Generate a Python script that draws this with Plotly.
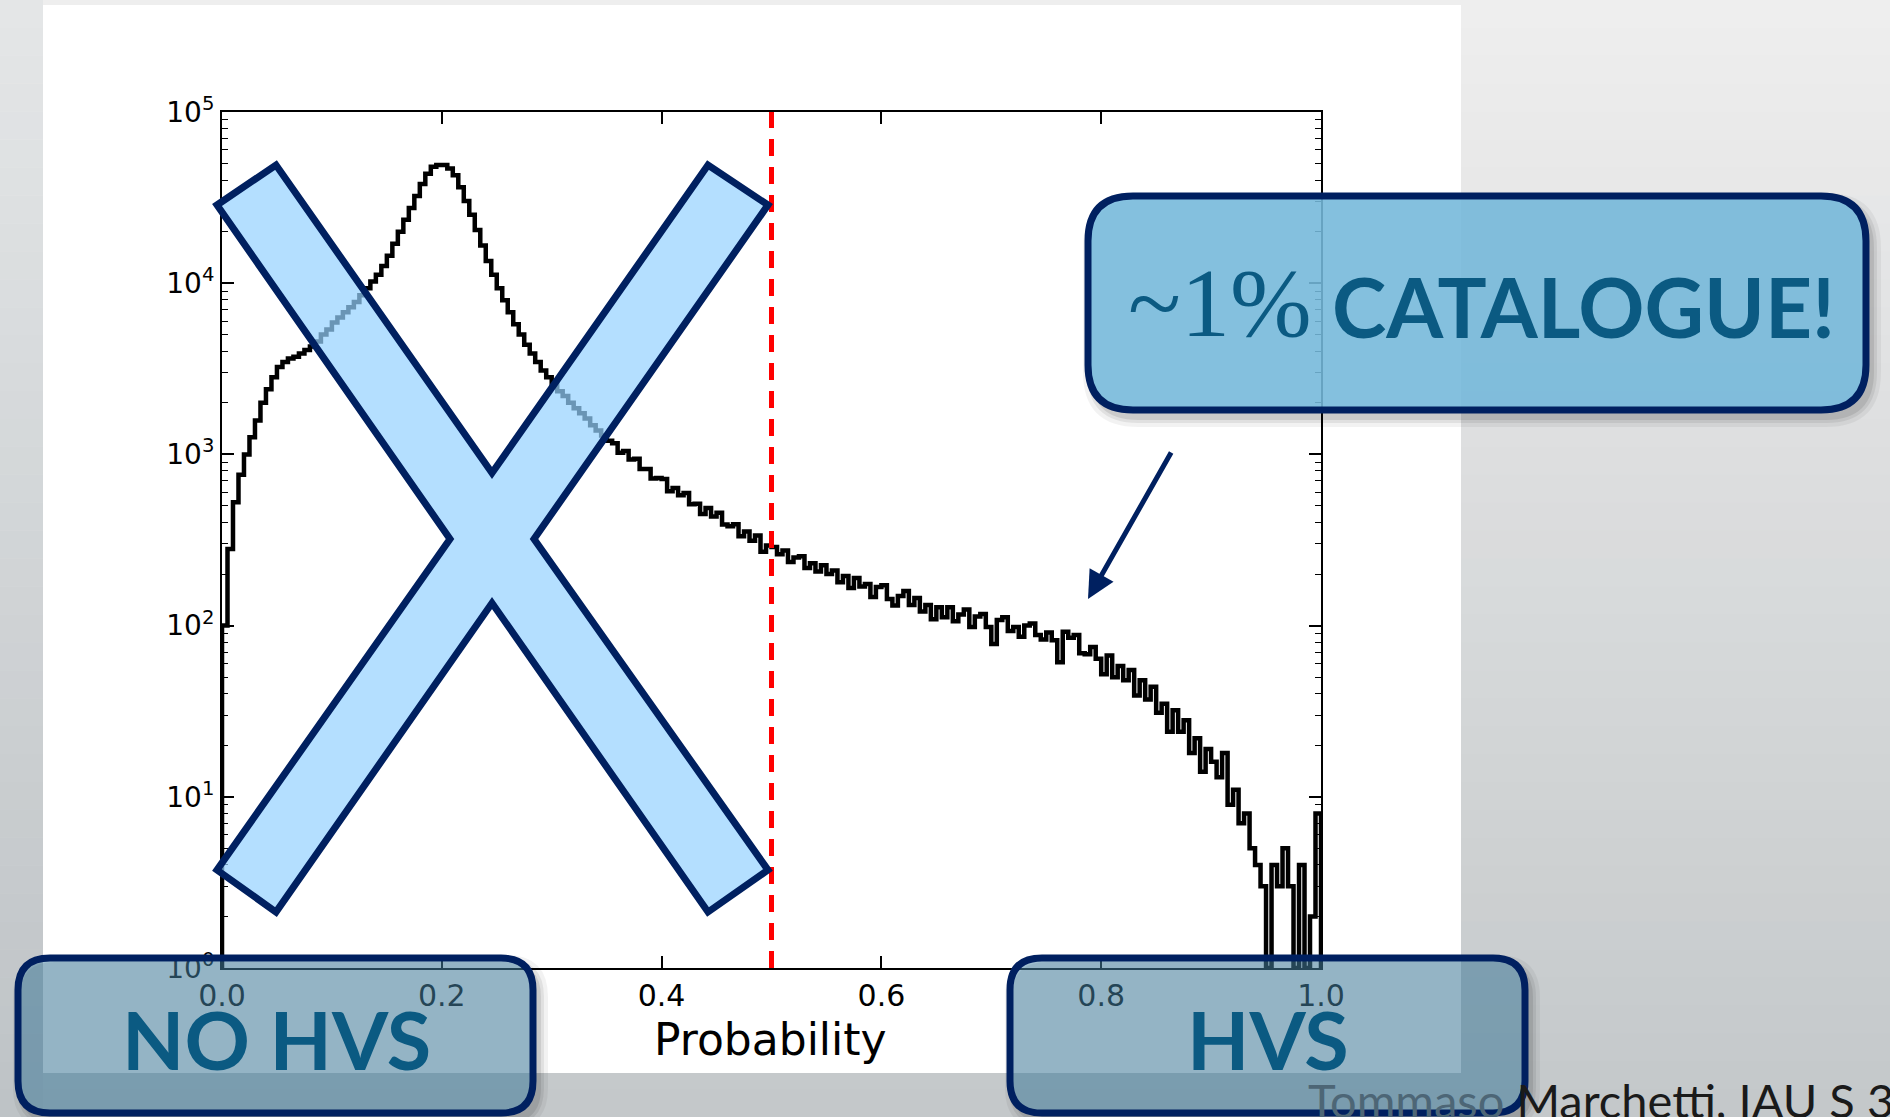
import plotly.graph_objects as go

W, H = 1890, 1117

# Histogram of the HVS probability (bin width 0.005 on [0, 1])
bin_width = 0.005
counts = [
    100, 280, 525, 760, 1000, 1260, 1580, 2000, 2400, 2820,
    3240, 3470, 3630, 3720, 3890, 4070, 4270, 4570, 5010, 5370,
    5890, 6310, 6760, 7240, 7760, 8510, 9330, 10230, 11220, 12590,
    14450, 16980, 19950, 23440, 27540, 32360, 38020, 43650, 47860, 48980,
    48980, 46770, 42660, 36310, 30200, 25120, 20420, 16600, 13490, 11220,
    9330, 7940, 6760, 5750, 5010, 4370, 3890, 3470, 3090, 2820,
    2570, 2340, 2190, 2000, 1860, 1740, 1620, 1480, 1380, 1290,
    1202, 1161, 1023, 1047, 933, 944, 822, 822, 724, 729,
    719, 610, 637, 578, 596, 512, 515, 448, 486, 434,
    456, 389, 381, 391, 333, 354, 313, 336, 270, 294,
    288, 261, 275, 235, 250, 254, 217, 231, 207, 225,
    200, 210, 179, 195, 166, 190, 169, 175, 147, 168,
    172, 143, 131, 149, 159, 132, 145, 121, 132, 109,
    128, 112, 128, 106, 116, 124, 98, 113, 117, 98,
    78, 108, 112, 93, 98, 86, 100, 103, 88, 83,
    91, 82, 61, 92, 85, 88, 69, 68, 75, 64,
    52, 67, 50, 58, 48, 55, 39, 48, 37, 44,
    31, 35, 24, 32, 24, 28, 18, 22, 14, 19,
    16, 13, 18, 9, 11, 7, 8, 5, 4, 3,
    1, 4, 3, 5, 3, 1, 4, 1, 2, 8,
]
bin_left = [round(i * bin_width, 3) for i in range(len(counts))]

threshold = 0.5
x_ticks = [0.0, 0.2, 0.4, 0.6, 0.8, 1.0]
x_ticktext = ["0.0", "0.2", "0.4", "0.6", "0.8", "1.0"]
y_ticks = [1, 10, 100, 1000, 10000, 100000]
y_ticktext = ["10<sup>0</sup>", "10<sup>1</sup>", "10<sup>2</sup>",
              "10<sup>3</sup>", "10<sup>4</sup>", "10<sup>5</sup>"]
y_minor = [m * 10 ** e for e in range(5) for m in range(2, 10)]

NAVY = "#002060"
TEAL = "#0b5a82"


def P(x, y):
    """pixel -> paper coordinates"""
    return x / W, 1 - y / H


def path_from(points):
    parts = []
    for k, (x, y) in enumerate(points):
        px, py = P(x, y)
        parts.append(("M" if k == 0 else "L") + f"{px:.5f},{py:.5f}")
    return " ".join(parts) + " Z"


def rrect(x0, y0, x1, y1, r):
    def p(x, y):
        a, b = P(x, y)
        return f"{a:.5f},{b:.5f}"
    return (f"M{p(x0 + r, y0)} L{p(x1 - r, y0)} Q{p(x1, y0)} {p(x1, y0 + r)} "
            f"L{p(x1, y1 - r)} Q{p(x1, y1)} {p(x1 - r, y1)} L{p(x0 + r, y1)} "
            f"Q{p(x0, y1)} {p(x0, y1 - r)} L{p(x0, y0 + r)} Q{p(x0, y0)} {p(x0 + r, y0)} Z")


def lerp(c0, c1, t):
    return "rgb(%d,%d,%d)" % tuple(round(a + (b - a) * t) for a, b in zip(c0, c1))


shapes = []
# slide background: vertical grey gradient
nb = 40
for k in range(nb):
    t = k / (nb - 1)
    y0, y1 = k * H / nb, (k + 1) * H / nb + 1
    x0p, y0p = P(0, y0)
    x1p, y1p = P(W, y1)
    shapes.append(dict(type="rect", xref="paper", yref="paper", layer="below",
                       x0=x0p, x1=x1p, y0=y1p, y1=y0p, line_width=0,
                       fillcolor=lerp((238, 238, 238), (196, 200, 202), t)))
    x0p, _ = P(0, y0)
    x1p, _ = P(43, y0)
    shapes.append(dict(type="rect", xref="paper", yref="paper", layer="below",
                       x0=x0p, x1=x1p, y0=y1p, y1=y0p, line_width=0,
                       fillcolor=lerp((228, 230, 231), (190, 195, 198), t)))
# white figure panel
a0, b0 = P(43, 5)
a1, b1 = P(1461, 1073)
shapes.append(dict(type="rect", xref="paper", yref="paper", layer="below",
                   x0=a0, x1=a1, y0=b1, y1=b0, line_width=0, fillcolor="white"))

# big cross over the low-probability side
cross = [(217, 205), (276, 165), (492, 473), (708, 165), (768, 205), (534, 539),
         (768, 870), (708, 912), (492, 603), (276, 912), (217, 870), (450, 539)]
shapes.append(dict(type="path", xref="paper", yref="paper", layer="above",
                   path=path_from(cross), fillcolor="rgba(150,210,255,0.71)",
                   line=dict(color=NAVY, width=7)))

# callout boxes with soft shadows
boxes = [
    ((1088, 196, 1866, 410), 45, "rgba(120,190,225,0.86)"),
    ((18, 958, 533, 1113), 32, "rgba(82,153,191,0.45)"),
    ((1010, 958, 1525, 1113), 32, "rgba(82,153,191,0.45)"),
]
for (x0, y0, x1, y1), r, fill in boxes:
    for g, al in ((10, 0.05), (6, 0.07), (3, 0.09)):
        shapes.append(dict(type="path", xref="paper", yref="paper", layer="above",
                           path=rrect(x0 - g + 5, y0 - g + 7, x1 + g + 5, y1 + g + 7, r + g),
                           fillcolor=f"rgba(0,0,0,{al})", line_width=0))
    shapes.append(dict(type="path", xref="paper", yref="paper", layer="above",
                       path=rrect(x0, y0, x1, y1, r), fillcolor=fill,
                       line=dict(color=NAVY, width=7)))

# step outline of the histogram
xs = [0.0] + bin_left + [1.0, 1.0]
ys = [1] + counts + [counts[-1], 1]

fig = go.Figure()
fig.add_trace(go.Scatter(x=xs, y=ys, mode="lines", line_shape="hv",
                         line=dict(color="black", width=4.5), hoverinfo="skip"))
fig.add_trace(go.Scatter(x=[threshold, threshold], y=[1, 1e5], mode="lines",
                         line=dict(color="#ff0000", width=5, dash="17px,11px"),
                         hoverinfo="skip"))

axis_font = dict(family="DejaVu Sans", color="black")
dx0, _ = P(222, 0)
dx1, _ = P(1321, 0)
_, dy0 = P(0, 968)
_, dy1 = P(0, 112)

fig.update_layout(
    width=W, height=H, margin=dict(l=0, r=0, t=0, b=0, pad=0, autoexpand=False),
    paper_bgcolor="#d6d8da", plot_bgcolor="rgba(0,0,0,0)",
    showlegend=False, shapes=shapes,
    xaxis=dict(domain=[dx0, dx1], range=[0, 1], tickvals=x_ticks, ticktext=x_ticktext,
               ticks="inside", ticklen=12, tickwidth=1.5, tickcolor="black",
               showline=True, linecolor="black", linewidth=2, mirror="allticks",
               showgrid=False, zeroline=False, automargin=False,
               tickfont=dict(size=30, **axis_font)),
    yaxis=dict(domain=[dy0, dy1], type="log", range=[0, 5], tickvals=y_ticks,
               ticktext=y_ticktext, ticks="inside", ticklen=12, tickwidth=1.5,
               tickcolor="black", showline=True, linecolor="black", linewidth=2,
               mirror="allticks", showgrid=False, zeroline=False, automargin=False,
               tickfont=dict(size=28, **axis_font),
               minor=dict(tickvals=y_minor, ticks="inside", ticklen=6,
                          tickwidth=1.2, tickcolor="black", showgrid=False)),
)

ann = []
ax_, ay_ = P(770, 1039)
ann.append(dict(text="Probability", x=ax_, y=ay_, xref="paper", yref="paper",
                xanchor="center", yanchor="middle",
                showarrow=False, font=dict(size=44, **axis_font)))
ax_, ay_ = P(1314, 303)
ann.append(dict(text="~1%", x=ax_, y=ay_, xref="paper", yref="paper", xanchor="right",
                yanchor="middle", showarrow=False,
                font=dict(family="Liberation Serif", size=98, color=TEAL)))
ax_, ay_ = P(1330, 306)
ann.append(dict(text="CATALOGUE!", x=ax_, y=ay_, xref="paper", yref="paper",
                xanchor="left", yanchor="middle", showarrow=False,
                font=dict(family="Lato", size=82, color=TEAL, weight="bold")))
for label, cx in (("NO HVS", 276), ("HVS", 1268)):
    ax_, ay_ = P(cx, 1038)
    ann.append(dict(text=label, x=ax_, y=ay_, xref="paper", yref="paper",
                    xanchor="center", yanchor="middle",
                    showarrow=False, font=dict(family="Lato", size=81, color=TEAL,
                                               weight="bold")))
ax_, ay_ = P(1306, 1130)
ann.append(dict(text='<span style="color:#4d6676">Tommaso</span> Marchetti, IAU S 33',
                x=ax_, y=ay_, xref="paper",
                yref="paper", xanchor="left", yanchor="bottom", showarrow=False,
                font=dict(family="Lato", size=47, color="#1a1a1a")))
tx, ty = P(1088, 599)
ann.append(dict(text="", x=tx, y=ty, xref="paper", yref="paper", showarrow=True,
                ax=84, ay=-148, arrowcolor=NAVY, arrowwidth=5, arrowhead=2,
                arrowsize=1.1, standoff=0))
fig.update_layout(annotations=ann)

fig.write_html("out.html")
